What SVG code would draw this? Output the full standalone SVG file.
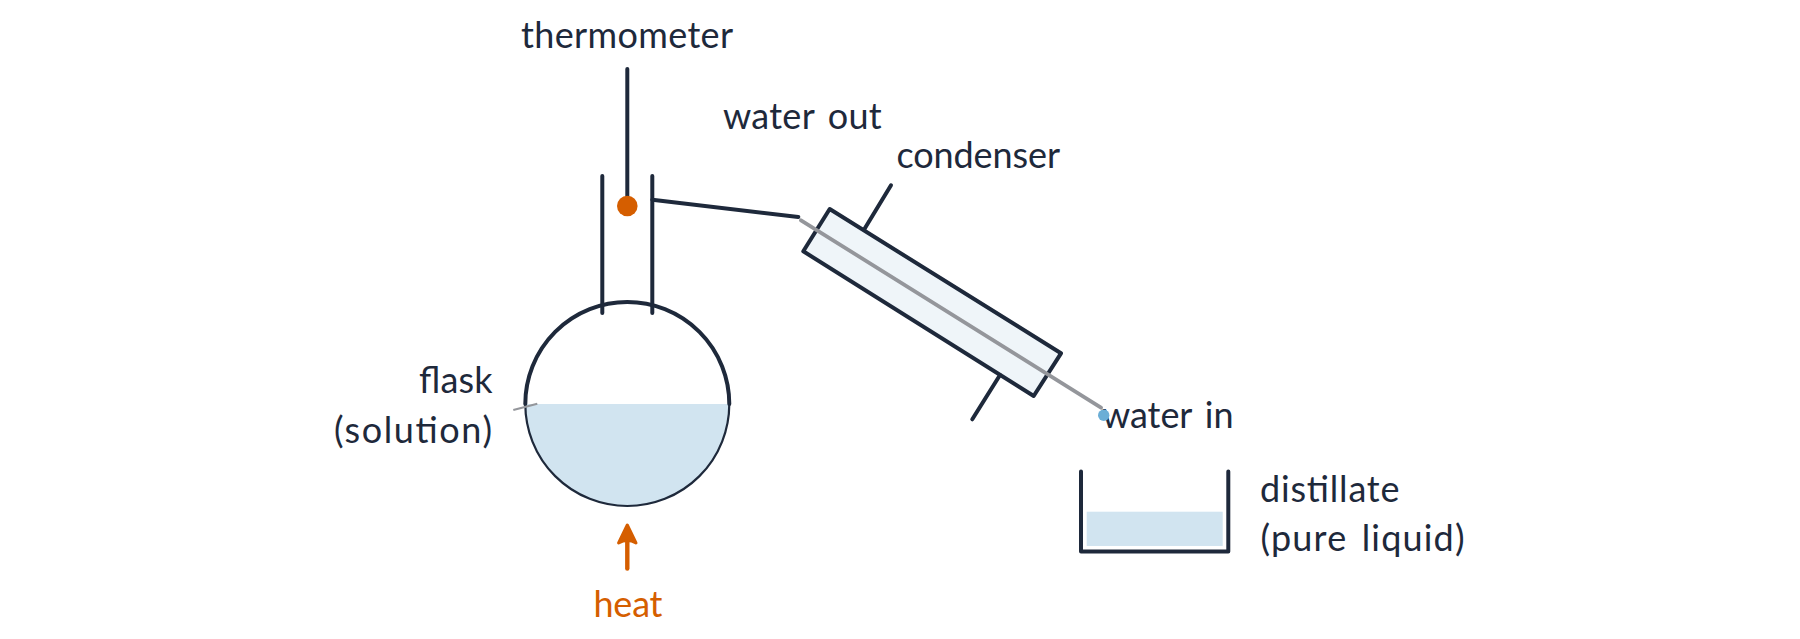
<svg xmlns="http://www.w3.org/2000/svg" width="1800" height="639" viewBox="0 0 1800 639">
<defs>
<style>
.l{fill:none;stroke:#1e293b;stroke-width:4;stroke-linecap:round;stroke-linejoin:round}
.t{font-family:"Lato","Liberation Sans",sans-serif;font-size:36px;fill:#1e293b;word-spacing:4px}
.g{fill:none;stroke:#94969b;stroke-width:3.800;stroke-linecap:round}
.w{fill:#d1e4f0}
</style>
</defs>
<rect width="1800" height="639" fill="#ffffff"/>
<g id="flask">
<path class="w" d="M525.300 404H729.300A102 102 0 0 1 525.300 404Z"/>
<path d="M525.300 404A102 102 0 0 0 729.300 404" fill="none" stroke="#1e293b" stroke-width="2.200"/>
<path class="l" d="M525.300 404A102 102 0 0 1 729.300 404"/>
<path class="l" d="M602.300 176V313M652.300 176V313"/>
<line x1="513.300" y1="410" x2="537.300" y2="403.700" stroke="#94969b" stroke-width="2.200"/>
<text class="t" x="419" y="393.300" textLength="73.500">flask</text>
<text class="t" x="334" y="443.300" textLength="158">(solution)</text>
</g>
<g id="thermometer">
<line class="l" x1="627.300" y1="69" x2="627.300" y2="206"/>
<circle cx="627.300" cy="206" r="10.300" fill="#d55e00"/>
<text class="t" x="521" y="48.300" textLength="212">thermometer</text>
</g>
<g id="condenser">
<path d="M829.700 209L1061 353.300L1033.700 396L803.300 251.300Z" fill="#eff5f9" stroke="#1e293b" stroke-width="4" stroke-linejoin="round"/>
<line class="l" x1="864.300" y1="229.300" x2="891" y2="185.300"/>
<line class="l" x1="1000" y1="375" x2="972.300" y2="419.300"/>
<text class="t" x="896.500" y="168" textLength="163.500">condenser</text>
<text class="t" x="723" y="128.500" textLength="158.700">water out</text>
<text class="t" x="1102" y="428" textLength="131.500">water in</text>
<circle cx="1103.700" cy="415.300" r="5.700" fill="#6baed6"/>
</g>
<g id="receiver">
<rect class="w" x="1086.700" y="511.700" width="136" height="34.300"/>
<path class="l" d="M1081 471.500V551.500H1228.300V471.500"/>
<text class="t" x="1260" y="502.300" textLength="139.500">distillate</text>
<text class="t" x="1260.500" y="550.700" textLength="204">(pure liquid)</text>
</g>
<g id="heat">
<text class="t" x="593.500" y="617" textLength="69" style="fill:#d55e00">heat</text>
</g>
<g id="connectors">
<line class="l" x1="652.300" y1="199.700" x2="798.300" y2="217"/>
<line class="g" x1="801" y1="220.300" x2="1101" y2="407.700"/>
<line x1="627.300" y1="568.500" x2="627.300" y2="540" stroke="#d55e00" stroke-width="4.400" stroke-linecap="round"/>
<path d="M627.300 525L636 543Q627.300 538 618.600 543Z" fill="#d55e00" stroke="#d55e00" stroke-width="3" stroke-linejoin="round"/>
</g>
</svg>
